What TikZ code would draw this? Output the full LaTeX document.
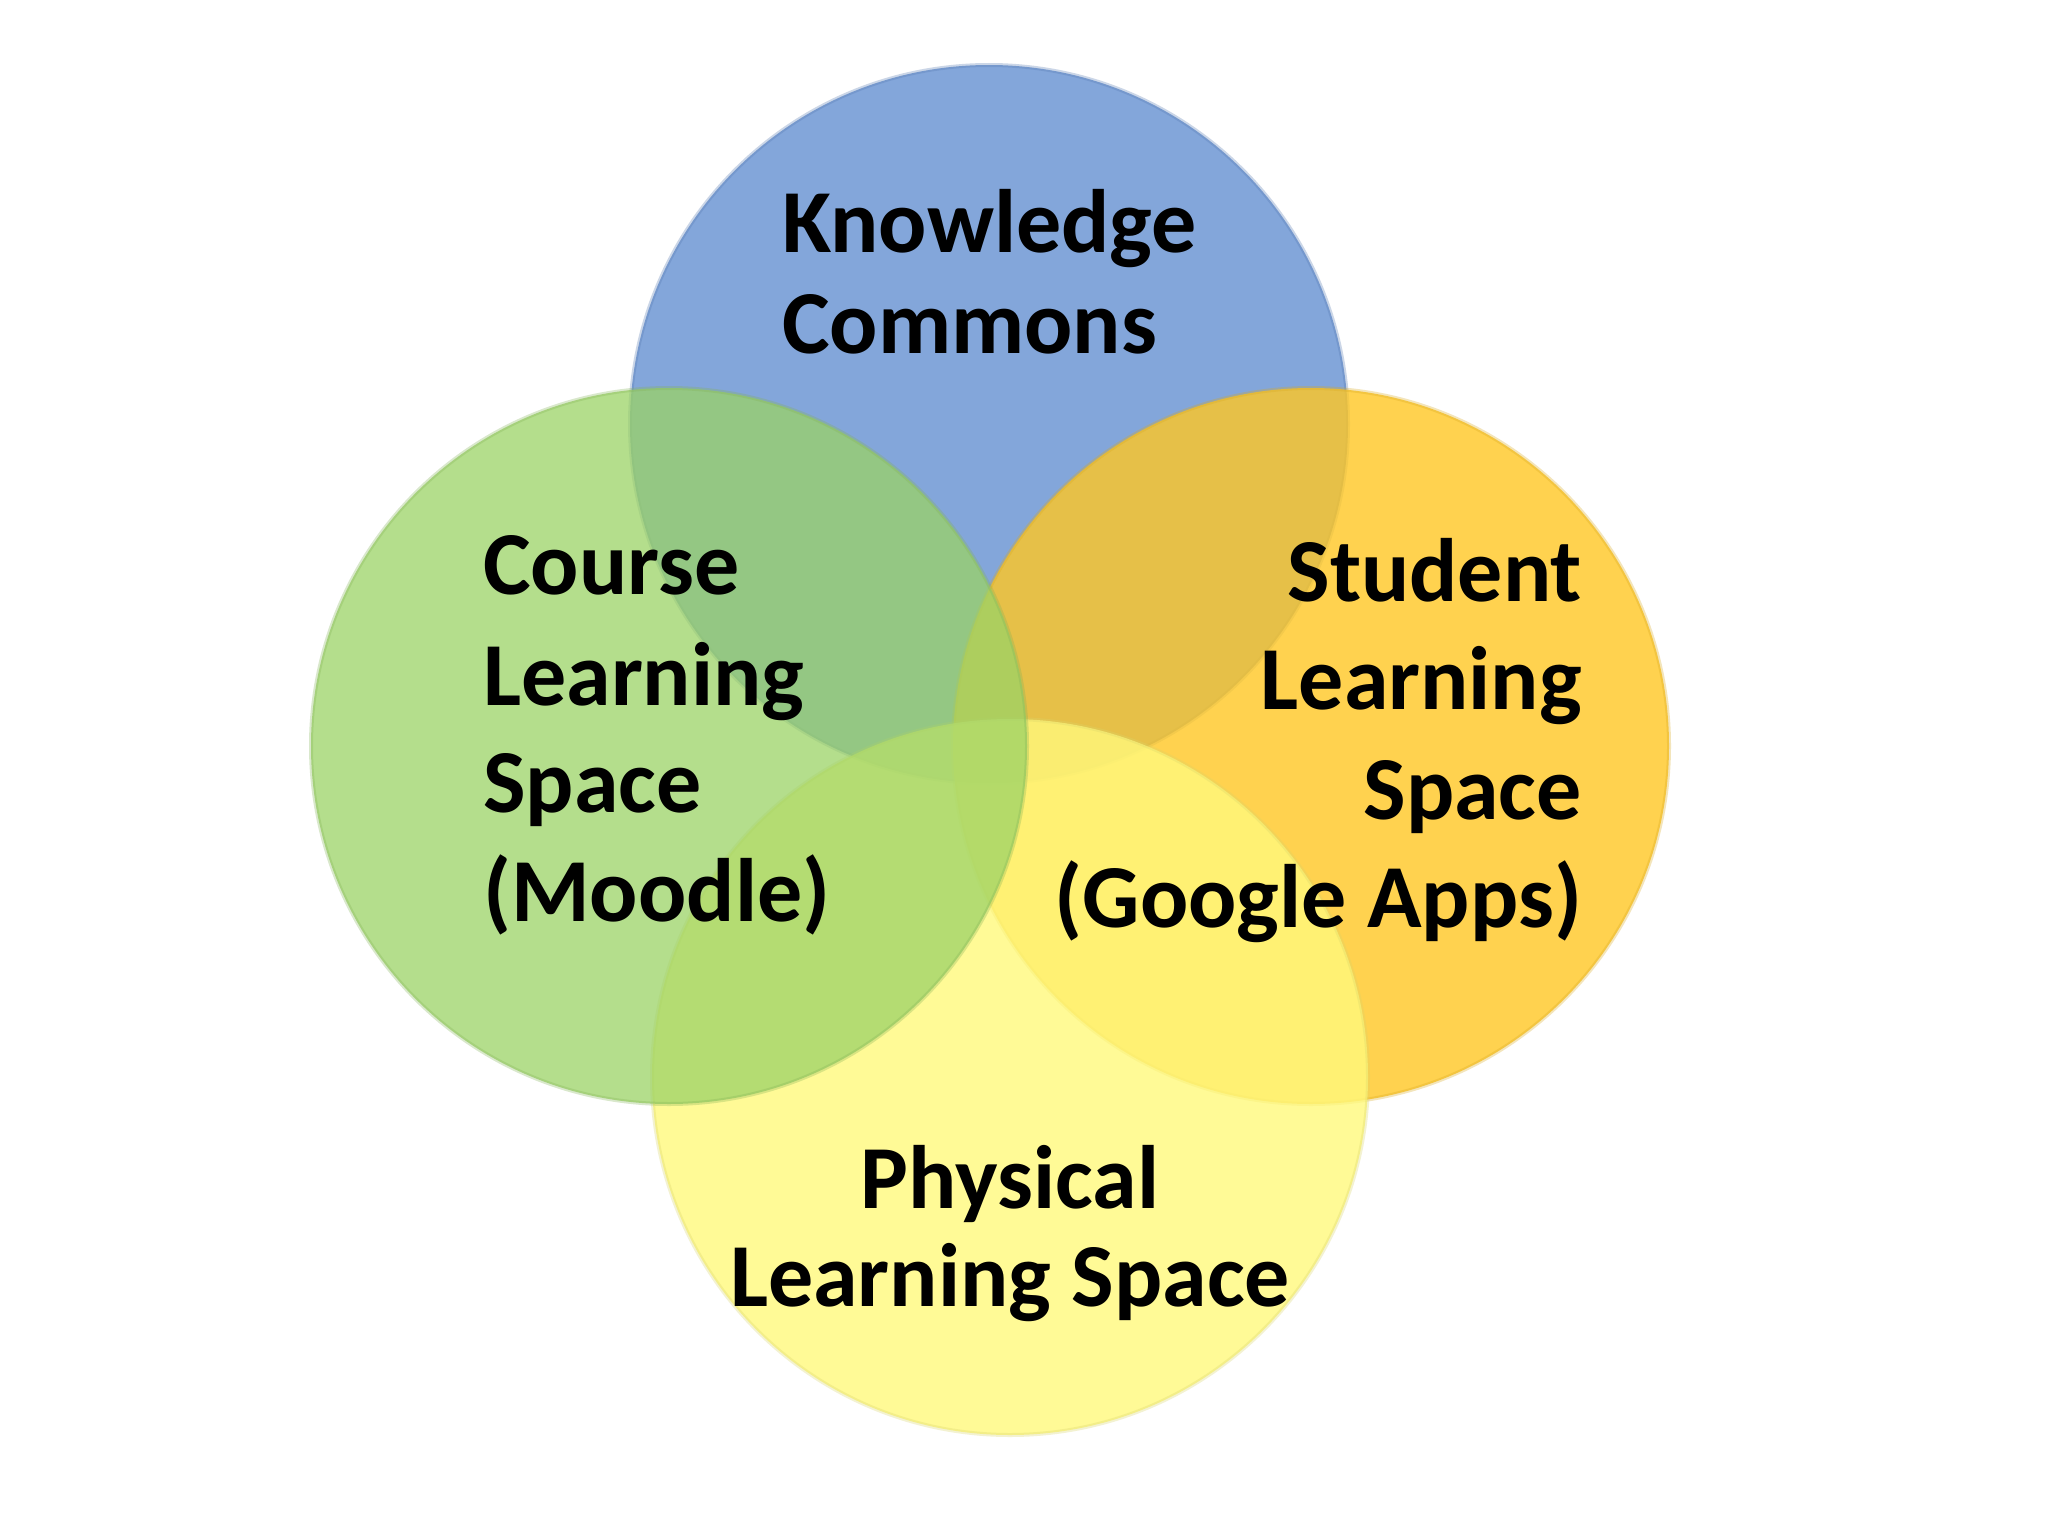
\documentclass[tikz,border=0pt]{standalone}
\usepackage{fontspec}
\setmainfont{Carlito}
\begin{document}
\begin{tikzpicture}[x=1pt,y=-1pt,
  disc/.style={fill=#1, fill opacity=0.8, draw=#1!85!black, draw opacity=0.3, line width=4pt},
  lbl/.style={inner sep=0pt, font=\fontsize{90}{100}\selectfont\bfseries, text=black}]
\definecolor{cblue}{RGB}{101,144,209}
\definecolor{cgreen}{RGB}{155,211,102}
\definecolor{corange}{RGB}{255,199,36}
\definecolor{cyellow}{RGB}{255,249,124}
\useasboundingbox[fill=white] (0,0) rectangle (2048,1536);
% circles
\path[disc=cblue] (989,424) circle[radius=359];
\path[disc=corange] (1311,746) circle[radius=358];
\path[disc=cyellow] (1010,1077) circle[radius=358];
\path[disc=cgreen, fill opacity=0.75] (669,746) circle[radius=358];
% labels
\node[lbl, anchor=base west] (k1) at (782,252) {Knowledge};
\node[lbl, anchor=base west] (k2) at (782,353) {Commons};
\node[lbl, anchor=base west] (c1) at (483,594) {Course};
\node[lbl, anchor=base west] (c2) at (483,705) {Learning};
\node[lbl, anchor=base west] (c3) at (483,812) {Space};
\node[lbl, anchor=base west] (c4) at (483,921) {(Moodle)};
\node[lbl, anchor=base east] (s1) at (1582,601) {Student};
\node[lbl, anchor=base east] (s2) at (1582,709) {Learning};
\node[lbl, anchor=base east] (s3) at (1582,819) {Space};
\node[lbl, anchor=base east] (s4) at (1582,927) {(Google Apps)};
\node[lbl, anchor=base] (p1) at (1010,1208) {Physical};
\node[lbl, anchor=base] (p2) at (1010,1306) {Learning Space};
\end{tikzpicture}
\end{document}
